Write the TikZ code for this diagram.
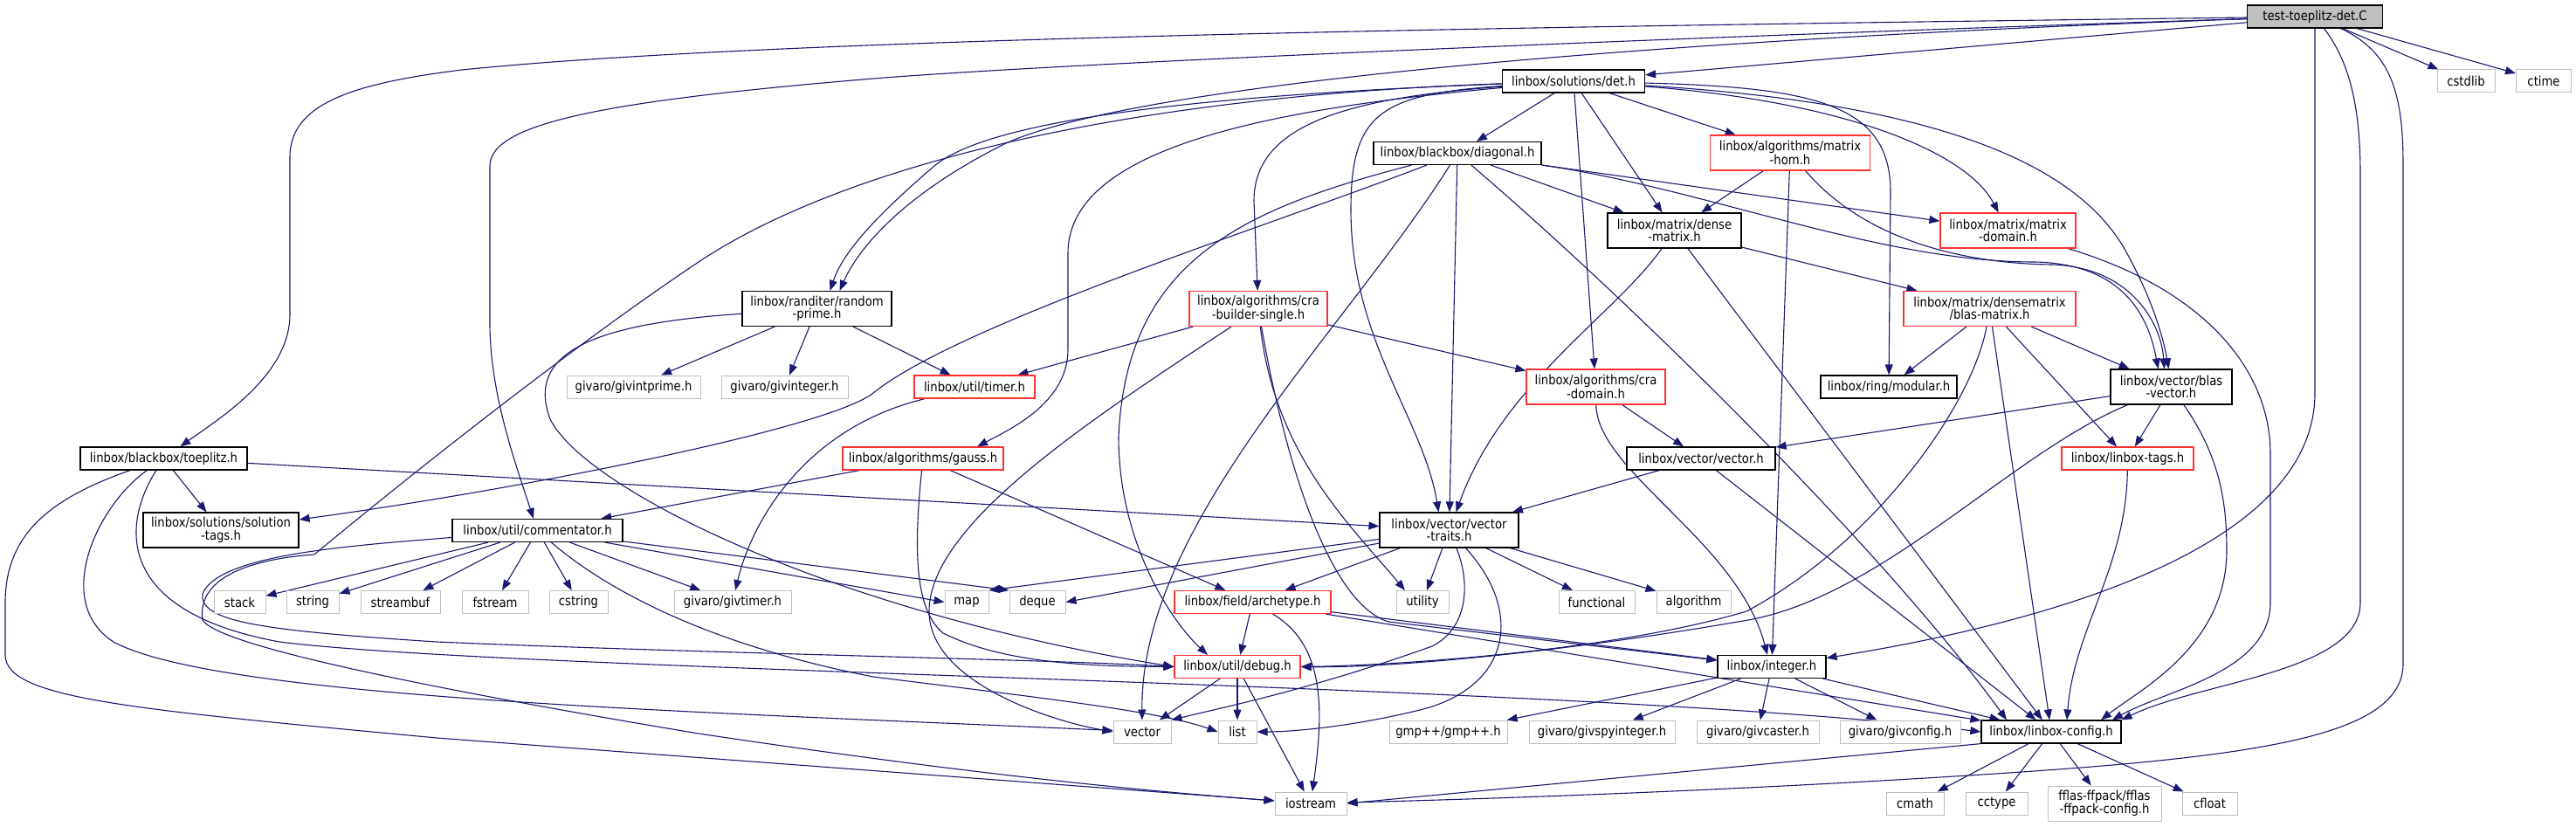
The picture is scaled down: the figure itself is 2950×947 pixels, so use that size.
\documentclass[tikz,border=0pt]{standalone}
\usepackage{fontspec}
\setmainfont{DejaVu Sans}[FakeStretch=0.88]
\usepackage{tikz}
\usetikzlibrary{arrows.meta, backgrounds}
\definecolor{eBlue}{HTML}{191970}
\definecolor{bRed}{HTML}{FF3030}
\definecolor{bGray}{HTML}{BFBFBF}
\definecolor{fRoot}{HTML}{BFBFBF}
\tikzset{
  % one box per header file
  F/.style={fill=white, line width=1.2pt, minimum height=26pt,
    inner xsep=4pt, inner ysep=2pt, align=center,
    font=\fontsize{15pt}{14.5pt}\selectfont},
  FD/.style={F, draw=black, minimum width=#1},          % documented header
  FR/.style={F, draw=bRed, minimum width=#1},           % truncated (more includes)
  FS/.style={F, draw=bGray, line width=1pt, minimum width=#1}, % system / external
  FC/.style={F, draw=black, fill=fRoot, minimum width=#1},     % the test file
  two/.style={minimum height=40pt},
  A/.style={draw=eBlue, line width=1.1pt, -{Triangle[length=12pt,width=9pt]}},
}

\begin{document}
\begin{tikzpicture}[x=1pt, y=-1pt]
\useasboundingbox (0,0) rectangle (2950,947);

% =====================================================================
% NODES (rows top to bottom)
% =====================================================================
\node[FC=155pt] (C) at (2651,19) {test-toeplitz-det.C};
\node[FS=66pt] (cstdlib) at (2824,93) {cstdlib};
\node[FS=63pt] (ctime) at (2913,93) {ctime};
\node[FD=163pt] (det) at (1802,93) {linbox/solutions/det.h};

\node[FD=192pt] (diag) at (1669,175.5) {linbox/blackbox/diagonal.h};
\node[FR=183pt, two] (mhom) at (2050,175) {linbox/algorithms/matrix\\-hom.h};

\node[FD=153pt, two] (dense) at (1917.5,264) {linbox/matrix/dense\\-matrix.h};
\node[FR=155pt, two] (mdom) at (2299.5,264) {linbox/matrix/matrix\\-domain.h};

\node[FD=171pt, two] (rprime) at (935.5,353.5) {linbox/randiter/random\\-prime.h};
\node[FR=158pt, two] (crab) at (1441,353.5) {linbox/algorithms/cra\\-builder-single.h};
\node[FR=197pt, two] (blasm) at (2278.5,353.5) {linbox/matrix/densematrix\\/blas-matrix.h};

\node[FS=153pt] (givip) at (725.5,443) {givaro/givintprime.h};
\node[FS=145pt] (givint) at (898.5,443) {givaro/givinteger.h};
\node[FR=138pt] (timer) at (1116,443) {linbox/util/timer.h};
\node[FR=159pt, two] (cradom) at (1827.5,443) {linbox/algorithms/cra\\-domain.h};
\node[FD=156pt] (modular) at (2163,443) {linbox/ring/modular.h};
\node[FD=139pt, two] (blasv) at (2486.5,443) {linbox/vector/blas\\-vector.h};

\node[FD=191pt] (toep) at (187.5,525) {linbox/blackbox/toeplitz.h};
\node[FR=184pt] (gauss) at (1057,525) {linbox/algorithms/gauss.h};
\node[FD=170pt] (vec) at (1948,525) {linbox/vector/vector.h};
\node[FR=151pt] (tags) at (2436.5,525) {linbox/linbox-tags.h};

\node[FD=178pt, two] (soltags) at (253,607) {linbox/solutions/solution\\-tags.h};
\node[FD=195pt] (comm) at (615.5,607.5) {linbox/util/commentator.h};
\node[FD=159pt, two] (vtraits) at (1659.5,607) {linbox/vector/vector\\-traits.h};

\node[FS=59pt] (stack) at (274.5,689.5) {stack};
\node[FS=60pt] (string) at (358,689.5) {string};
\node[FS=91pt] (streambuf) at (458.5,689.5) {streambuf};
\node[FS=76pt] (fstream) at (567,689.5) {fstream};
\node[FS=67pt] (cstring) at (662.5,689.5) {cstring};
\node[FS=134pt] (givtimer) at (839,689.5) {givaro/givtimer.h};
\node[FS=50pt] (map) at (1107,689.5) {map};
\node[FS=64pt] (deque) at (1188,689.5) {deque};
\node[FR=179pt] (arche) at (1434.5,689.5) {linbox/field/archetype.h};
\node[FS=60pt] (utility) at (1629,689.5) {utility};
\node[FS=87pt] (functional) at (1828.5,689.5) {functional};
\node[FS=85pt] (algorithm) at (1939.5,689.5) {algorithm};

\node[FR=144pt] (debug) at (1417,763.5) {linbox/util/debug.h};
\node[FD=124pt] (integer) at (2029,763.5) {linbox/integer.h};

\node[FS=66pt] (vector) at (1308,838) {vector};
\node[FS=44pt] (list) at (1417,838) {list};
\node[FS=135pt] (gmp) at (1658.5,838) {gmp++/gmp++.h};
\node[FS=167pt] (givspy) at (1834.5,838) {givaro/givspyinteger.h};
\node[FS=140pt] (givcaster) at (2013,838) {givaro/givcaster.h};
\node[FS=138pt] (givconfig) at (2176,838) {givaro/givconfig.h};
\node[FD=160pt] (config) at (2349,838) {linbox/linbox-config.h};

\node[FS=82pt] (iostream) at (1501,920) {iostream};
\node[FS=66pt] (cmath) at (2193,920) {cmath};
\node[FS=71pt] (cctype) at (2286.5,920) {cctype};
\node[FS=130pt, two] (fflas) at (2410,920) {fflas-ffpack/fflas\\-ffpack-config.h};
\node[FS=63pt] (cfloat) at (2530.5,920) {cfloat};

% =====================================================================
% INCLUDE EDGES (behind the boxes)
% =====================================================================
\begin{scope}[on background layer]

% ── test file ────────────────────────────────────────────────────────
\draw[A] (C) -- (det);
\draw[A] (C) -- (cstdlib);
\draw[A] (C) -- (ctime);
\draw[A] (C) .. controls (1800,30) and (900,42) .. (529,80)
  .. controls (400,96) and (332,120) .. (332,180) -- (332,360)
  .. controls (332,430) and (250,480) .. (toep);
\draw[A] (C) .. controls (2000,40) and (1250,70) .. (1000,90)
  .. controls (700,115) and (561,140) .. (561,190) -- (561,370)
  .. controls (561,450) and (590,530) .. (comm);
\draw[A] (C) .. controls (1900,45) and (1300,95) .. (1150,165)
  .. controls (1040,220) and (985,280) .. ([xshift=26pt]rprime.north);
\draw[A] (C) -- (2651,450) .. controls (2651,640) and (2300,720) .. (integer);
\draw[A] (C) .. controls (2690,70) and (2703,120) .. (2703,200) -- (2703,690)
  .. controls (2703,770) and (2520,780) .. (config.north east);
\draw[A] (C) .. controls (2740,60) and (2752,110) .. (2752,190) -- (2752,760)
  .. controls (2752,840) and (2600,865) .. (2300,885)
  .. controls (2000,905) and (1700,915) .. (iostream);

% ── det.h ────────────────────────────────────────────────────────────
\draw[A] (det) -- (diag);
\draw[A] (det) -- (mhom);
\draw[A] (det) -- (dense);
\draw[A] (det) -- (cradom);
\draw[A] (det) .. controls (2100,115) and (2250,170) .. (mdom);
\draw[A] (det) .. controls (2080,100) and (2165,120) .. (2165,220) -- (modular);
\draw[A] (det) .. controls (2250,120) and (2380,200) .. (2430,280)
  .. controls (2465,340) and (2478,390) .. ([xshift=-3pt]blasv.north);
\draw[A] (det) .. controls (1550,112) and (1436,140) .. (1436,230) -- (crab);
\draw[A] (det) .. controls (1580,108) and (1547,130) .. (1547,240)
  .. controls (1547,390) and (1630,480) .. ([xshift=-12pt]vtraits.north);
\draw[A] (det) .. controls (1450,125) and (1223,170) .. (1223,290) -- (1223,400)
  .. controls (1223,460) and (1160,490) .. ([xshift=62pt]gauss.north);
\draw[A] (det) .. controls (1350,110) and (1130,140) .. (1070,190)
  .. controls (1000,250) and (965,290) .. ([xshift=15pt]rprime.north);
\draw[A] (det) .. controls (1250,112) and (950,200) .. (800,300)
  .. controls (650,400) and (450,560) .. (360,635)
  .. controls (290,640) and (225,660) .. (232,710)
  .. controls (250,740) and (500,790) .. (800,840)
  .. controls (1100,885) and (1300,905) .. (iostream);

% ── blackbox/diagonal.h ──────────────────────────────────────────────
\draw[A] (diag) -- (dense);
\draw[A] (diag) -- (mdom);
\draw[A] (diag) -- (vtraits);
\draw[A] (diag) .. controls (1450,260) and (1100,370) .. (1000,450)
  .. controls (950,490) and (600,560) .. (soltags);
\draw[A] (diag) .. controls (1420,240) and (1290,300) .. (1281,500)
  .. controls (1281,620) and (1340,710) .. ([xshift=-34pt]debug.north);
\draw[A] (diag) .. controls (1540,380) and (1306,600) .. (vector);
\draw[A] (diag) .. controls (1950,215) and (2150,300) .. (2330,300)
  .. controls (2430,302) and (2460,360) .. ([xshift=-15pt]blasv.north);
\draw[A] (diag) .. controls (1850,330) and (2150,620) .. ([xshift=-51pt]config.north);

% ── matrix headers ───────────────────────────────────────────────────
\draw[A] (mhom) -- (dense);
\draw[A] (mhom) -- (integer);
\draw[A] (mhom) .. controls (2140,280) and (2260,302) .. (2350,303)
  .. controls (2440,306) and (2475,370) .. ([xshift=-8pt]blasv.north);
\draw[A] (dense) -- (blasm);
\draw[A] (dense) -- (config);
\draw[A] (dense) .. controls (1850,360) and (1720,440) .. ([xshift=8pt]vtraits.north);
\draw[A] (mdom) .. controls (2520,330) and (2600,420) .. (2600,520) -- (2600,690)
  .. controls (2600,770) and (2480,790) .. ([xshift=70pt]config.north);
\draw[A] (blasm) -- (modular);
\draw[A] (blasm) -- (blasv);
\draw[A] (blasm) -- (tags);
\draw[A] (blasm) -- (config);
\draw[A] (blasm) .. controls (2260,460) and (2150,620) .. (2000,700)
  .. controls (1850,745) and (1600,762) .. (debug.east);

% ── randiter / cra / timer ───────────────────────────────────────────
\draw[A] (rprime) -- (givip);
\draw[A] (rprime) -- (givint);
\draw[A] (rprime) -- (timer);
\draw[A] (rprime) .. controls (690,370) and (600,400) .. (630,480)
  .. controls (670,560) and (950,700) .. (debug.west);
\draw[A] (crab) -- (timer);
\draw[A] (crab) -- (cradom);
\draw[A] (crab) .. controls (1250,480) and (1064,600) .. (1064,700)
  .. controls (1064,780) and (1200,825) .. (vector.west);
\draw[A] (crab) .. controls (1460,520) and (1545,600) .. ([xshift=-20pt]utility.north);
\draw[A] (crab) .. controls (1470,520) and (1520,690) .. (1590,712) -- (integer);
\draw[A] (timer) .. controls (920,490) and (860,600) .. (givtimer);
\draw[A] (cradom) -- (vec);
\draw[A] (cradom) .. controls (1829,540) and (1990,620) .. ([xshift=-5pt]integer.north);

% ── vector headers ───────────────────────────────────────────────────
\draw[A] (blasv) -- (vec);
\draw[A] (blasv) -- (tags);
\draw[A] (blasv) .. controls (2540,520) and (2550,570) .. (2550,630)
  .. controls (2550,740) and (2450,790) .. ([xshift=57pt]config.north);
\draw[A] (blasv) .. controls (2300,520) and (2150,690) .. (1990,712)
  .. controls (1800,745) and (1600,765) .. (debug.east);
\draw[A] (tags) .. controls (2435,650) and (2375,720) .. ([xshift=18pt]config.north);
\draw[A] (vec) -- (vtraits);
\draw[A] (vec) -- (config);

% ── blackbox/toeplitz.h ──────────────────────────────────────────────
\draw[A] (toep) -- (soltags);
\draw[A] (toep) -- (vtraits);
\draw[A] (toep) .. controls (60,570) and (6,610) .. (6,690) -- (6,750)
  .. controls (6,800) and (150,812) .. (500,845) -- (iostream);
\draw[A] (toep) .. controls (110,580) and (60,690) .. (130,735)
  .. controls (250,800) and (800,815) .. (vector);
\draw[A] (toep) .. controls (140,600) and (130,700) .. (320,735)
  .. controls (600,770) and (1800,782) .. (config.west);

% ── gauss / commentator ──────────────────────────────────────────────
\draw[A] (gauss) -- (comm);
\draw[A] (gauss) -- (arche);
\draw[A] (gauss) .. controls (1045,640) and (1050,700) .. (1080,725)
  .. controls (1150,760) and (1250,763) .. (debug.west);
\foreach \t in {stack, string, streambuf, fstream, cstring, givtimer}
  \draw[A] (comm) -- (\t);
\draw[A] (comm) -- (map.west);
\draw[A] (comm) -- (deque.north west);
\draw[A] (comm) .. controls (400,625) and (250,635) .. (232,680)
  .. controls (228,712) and (300,722) .. (500,735)
  .. controls (800,748) and (1200,755) .. (debug.west);
\draw[A] (comm) .. controls (700,680) and (820,740) .. (1000,775)
  .. controls (1200,800) and (1330,815) .. (list.west);

% ── vector-traits / archetype / debug ────────────────────────────────
\draw[A] (vtraits) -- (map.north east);
\draw[A] (vtraits) -- (deque.east);
\foreach \t in {arche, utility, functional, algorithm}
  \draw[A] (vtraits) -- (\t);
\draw[A] (vtraits) .. controls (1685,670) and (1680,720) .. (1640,740)
  .. controls (1500,790) and (1400,810) .. (vector.north east);
\draw[A] (vtraits) .. controls (1745,700) and (1730,785) .. (1630,812)
  .. controls (1550,832) and (1480,838) .. (list.east);
\draw[A] (arche) -- (debug);
\draw[A] (arche) -- (integer);
\draw[A] (arche) -- (config);
\draw[A] (arche) .. controls (1520,740) and (1515,820) .. (iostream);
\foreach \t in {vector, list, iostream}
  \draw[A] (debug) -- (\t);

% ── integer / config ─────────────────────────────────────────────────
\foreach \t in {gmp, givspy, givcaster, givconfig, config}
  \draw[A] (integer) -- (\t);
\draw[A] (config.south west) -- (iostream.east);
\foreach \t in {cmath, cctype, fflas, cfloat}
  \draw[A] (config) -- (\t);

\end{scope}
\end{tikzpicture}
\end{document}
